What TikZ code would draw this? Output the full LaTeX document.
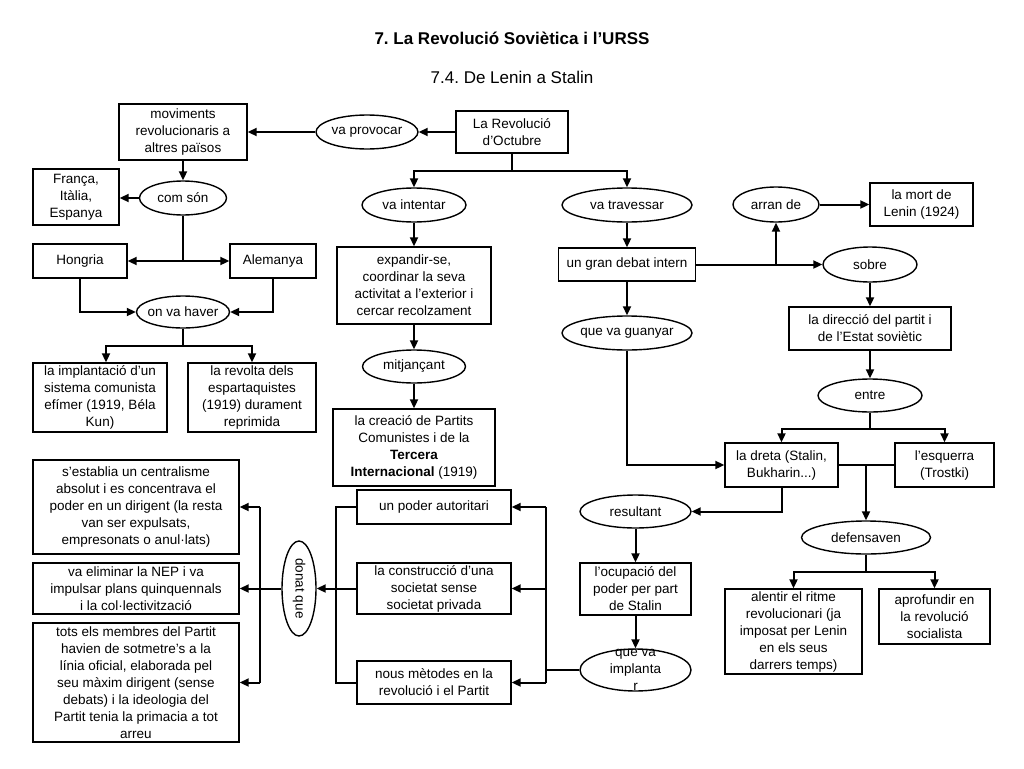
\documentclass[tikz,border=0pt]{standalone}
\usepackage{fontspec}
\setmainfont{Liberation Sans}
\usetikzlibrary{arrows.meta,shapes.geometric}
\frenchspacing
\begin{document}
\begin{tikzpicture}[x=1pt,y=-1pt,
  every node/.style={font=\fontsize{13.5}{17}\selectfont, align=center, inner sep=0pt},
  bx/.style={draw, line width=1.4pt, rectangle},
  ov/.style={draw, line width=1.4pt, ellipse},
  sz/.style n args={2}{minimum width=#1pt, minimum height=#2pt},
  ln/.style={line width=2pt},
  arr/.style={ln, -{Triangle[length=9pt,width=8pt]}}]
\fill[white] (0,0) rectangle (1024,768);
\useasboundingbox (0,0) rectangle (1024,768);

% titles
\node[font=\bfseries\fontsize{17}{20}\selectfont] (t1) at (512,38) {7. La Revolució Soviètica i l’URSS};
\node[font=\fontsize{17}{20}\selectfont] (t2) at (512,77) {7.4. De Lenin a Stalin};

% left column
\node[bx,sz={128}{56}] (mov) at (183,132) {moviments\\revolucionaris a\\altres països};
\node[ov,sz={102}{34}] (prov) at (367,132) {va provocar};
\node[bx,sz={112}{42}] (rev) at (512,132) {La Revolució\\d'Octubre};
\node[bx,sz={86}{56}] (fra) at (76,197) {França,\\Itàlia,\\Espanya};
\node[ov,sz={87}{34}] (com) at (183,198) {com són};
\node[bx,sz={94}{34}] (hon) at (80,261) {Hongria};
\node[bx,sz={86}{34}] (ale) at (273,261) {Alemanya};
\node[ov,sz={93}{32},inner xsep=-3pt] (hav) at (183,312) {on va haver};
\node[bx,sz={134}{69}] (imp) at (100,397.5) {la implantació d’un\\sistema comunista\\efímer (1919, Béla\\Kun)};
\node[bx,sz={128}{69}] (esp) at (252,397.5) {la revolta dels\\espartaquistes\\(1919) durament\\reprimida};

% middle column
\node[ov,sz={104}{34}] (int) at (414,205) {va intentar};
\node[bx,sz={154}{77}] (exp) at (414,285.5) {expandir-se,\\coordinar la seva\\activitat a l'exterior i\\cercar recolzament};
\node[ov,sz={103}{33}] (mit) at (414,366.5) {mitjançant};
\node[bx,sz={162}{77}] (cre) at (414,447.5) {la creació de Partits\\Comunistes i de la\\\textbf{Tercera}\\\textbf{Internacional} (1919)};

% right part
\node[ov,sz={130}{34}] (tra) at (627,205) {va travessar};
\node[bx,sz={137}{33}] (deb) at (627,264.5) {un gran debat intern};
\node[ov,sz={130}{34},inner xsep=-2pt] (gua) at (627,333) {que va guanyar};
\node[ov,sz={86}{35}] (arran) at (776,204.5) {arran de};
\node[bx,sz={103}{43}] (mort) at (921.5,204.5) {la mort de\\Lenin (1924)};
\node[ov,sz={94}{35}] (sob) at (870,264.5) {sobre};
\node[bx,sz={162}{43}] (dir) at (870,328.5) {la direcció del partit i\\de l'Estat soviètic};
\node[ov,sz={104}{33}] (ent) at (870,395.5) {entre};
\node[bx,sz={113}{44}] (dre) at (781.5,465) {la dreta (Stalin,\\Bukharin...)};
\node[bx,sz={99}{44}] (esq) at (944.5,465) {l’esquerra\\(Trostki)};
\node[ov,sz={129}{33}] (def) at (866,537.5) {defensaven};
\node[bx,sz={137}{85}] (alen) at (793.5,631.5) {alentir el ritme\\revolucionari (ja\\imposat per Lenin\\en els seus\\darrers temps)};
\node[bx,sz={111}{55}] (apr) at (934.5,616.5) {aprofundir en\\la revolució\\socialista};
\node[ov,sz={111}{33}] (res) at (635.5,511.5) {resultant};
\node[bx,sz={111}{52}] (ocu) at (635.5,589) {l’ocupació del\\poder per part\\de Stalin};
\node[ov,sz={111}{42},inner ysep=-9pt] (impl) at (635.5,670) {que va\\implanta\\r};

% bottom middle
\node[bx,sz={154}{34}] (pod) at (434,507) {un poder autoritari};
\node[bx,sz={154}{51}] (con) at (434,588.5) {la construcció d’una\\societat sense\\societat privada};
\node[bx,sz={154}{43}] (nou) at (434,682.5) {nous mètodes en la\\revolució i el Partit};
\node[ov,sz={95}{34},rotate=-90] (don) at (299,588.5) {donat que};

% bottom left
\node[bx,sz={206}{94}] (est) at (136,507) {s’establia un centralisme\\absolut i es concentrava el\\poder en un dirigent (la resta\\van ser expulsats,\\empresonats o anul·lats)};
\node[bx,sz={206}{51}] (nep) at (136,588.5) {va eliminar la NEP i va\\impulsar plans quinquennals\\i la col·lectivització};
\node[bx,sz={206}{119}] (tot) at (136,682.5) {tots els membres del Partit\\havien de sotmetre’s a la\\línia oficial, elaborada pel\\seu màxim dirigent (sense\\debats) i la ideologia del\\Partit tenia la primacia a tot\\arreu};

% connectors: top
\draw[arr] (rev) -- (prov);
\draw[arr] (prov) -- (mov);
\draw[arr] (rev.south) -- ++(0,17.5) -| (int.north);
\draw[arr] (rev.south) -- ++(0,17.5) -| (tra.north);
\draw[arr] (int) -- (exp);
\draw[arr] (exp) -- (mit);
\draw[arr] (mit) -- (cre);
\draw[arr] (tra) -- (deb);
\draw[arr] (deb) -- (gua);
\draw[arr] (gua.south) |- (dre.west);
\draw[arr] (deb.east) -- (sob.west);
\draw[arr] (deb.east -| arran.south) -- (arran.south);
\draw[arr] (arran) -- (mort);
\draw[arr] (sob) -- (dir);
\draw[arr] (dir) -- (ent);
\draw[arr] (ent.south) -- ++(0,16.5) -| (dre.north);
\draw[arr] (ent.south) -- ++(0,16.5) -| (esq.north);
\draw[ln] (dre.east) -- (esq.west);
\draw[arr] (dre.east -| def.north) -- (def.north);
\draw[arr] (def.south) -- ++(0,17) -| (alen.north);
\draw[arr] (def.south) -- ++(0,17) -| (apr.north);
\draw[arr] (dre.south) |- (res.east);
\draw[arr] (res) -- (ocu);
\draw[arr] (ocu) -- (impl);

% connectors: bottom
\coordinate (jr) at (546,588.5);
\draw[ln] (impl.west) -- (impl.west -| jr);
\draw[ln] (jr |- pod.east) -- (jr |- nou.east);
\draw[arr] (jr |- pod.east) -- (pod.east);
\draw[arr] (jr |- con.east) -- (con.east);
\draw[arr] (jr |- nou.east) -- (nou.east);
\coordinate (jl) at (336,588.5);
\draw[ln] (pod.west) -- (jl |- pod.west) -- (jl |- nou.west) -- (nou.west);
\draw[arr] (con.west) -- (don);
\draw[arr] (don) -- (nep.east);
\coordinate (jm) at (260,588.5);
\draw[ln] (jm |- est.east) -- (jm |- tot.east);
\draw[arr] (jm |- est.east) -- (est.east);
\draw[arr] (jm |- tot.east) -- (tot.east);

% connectors: left
\draw[arr] (mov) -- (com);
\draw[arr] (com.west) -- (com.west -| fra.east);
\draw[ln] (com.south) -- (com.south |- hon.east);
\draw[arr] (com.south |- hon.east) -- (hon.east);
\draw[arr] (com.south |- ale.west) -- (ale.west);
\draw[arr] (hon.south) |- (hav.west);
\draw[arr] (ale.south) |- (hav.east);
\draw[arr] (hav.south) -- ++(0,17) -| ([xshift=6pt]imp.north);
\draw[arr] (hav.south) -- ++(0,17) -| (esp.north);
\end{tikzpicture}
\end{document}
